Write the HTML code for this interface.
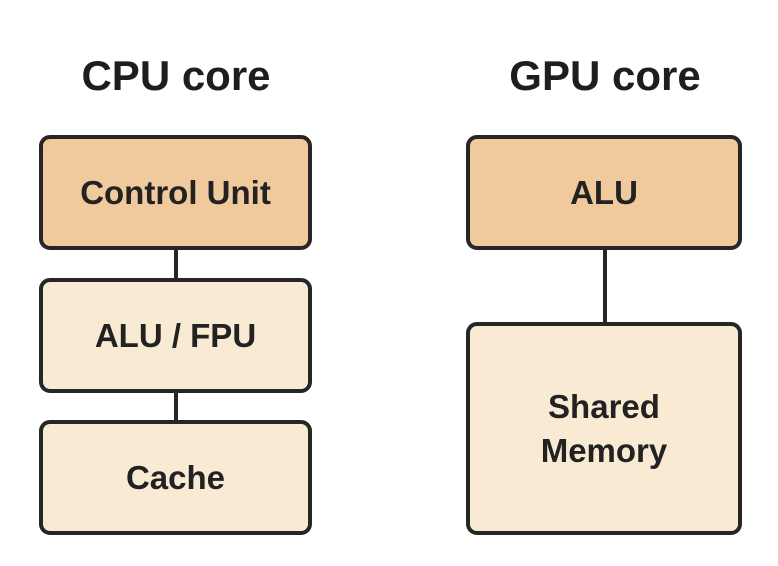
<!DOCTYPE html>
<html><head><style>
body{margin:0;width:778px;height:566px;background:#fff;position:relative;font-family:"Liberation Sans",sans-serif;overflow:hidden}
.t{position:absolute;font-weight:bold;font-size:42px;color:#1e1e1e;text-align:center;width:300px}
.b{position:absolute;box-sizing:border-box;border:4px solid #262626;border-radius:11px;display:flex;align-items:center;justify-content:center;text-align:center;font-weight:bold;font-size:33px;color:#222;line-height:44px}
.d{background:#f0c99c}.l{background:#f9ebd3}
.v{position:absolute;width:4px;background:#262626}
</style></head><body>
<div class="t" style="left:26px;top:52px">CPU core</div>
<div class="t" style="left:455px;top:52px">GPU core</div>
<div class="v" style="left:174px;top:247px;height:34px"></div>
<div class="v" style="left:174px;top:390px;height:33px"></div>
<div class="v" style="left:603px;top:247px;height:78px"></div>
<div class="b d" style="left:39px;top:135px;width:273px;height:115px">Control Unit</div>
<div class="b l" style="left:39px;top:278px;width:273px;height:115px">ALU / FPU</div>
<div class="b l" style="left:39px;top:420px;width:273px;height:115px">Cache</div>
<div class="b d" style="left:466px;top:135px;width:276px;height:115px">ALU</div>
<div class="b l" style="left:466px;top:322px;width:276px;height:213px">Shared<br>Memory</div>
</body></html>
